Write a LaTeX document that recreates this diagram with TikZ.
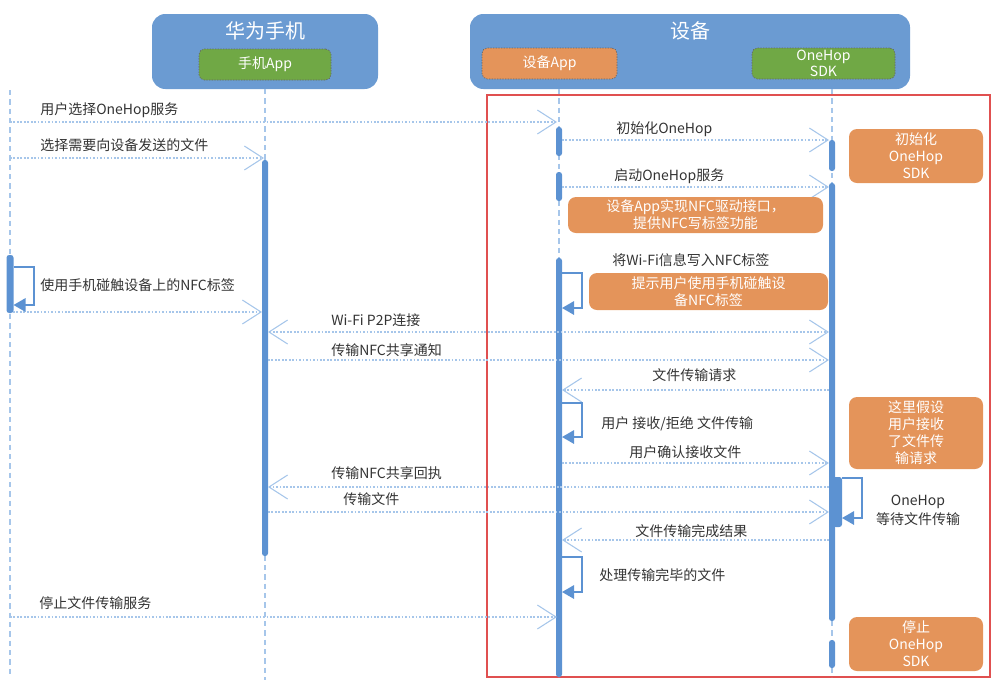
\documentclass[tikz,border=0pt]{standalone}
\usepackage{fontspec}
\setmainfont{Noto Sans CJK SC}
\usetikzlibrary{arrows.meta}
\definecolor{hdrblue}{HTML}{6B9BD2}
\definecolor{grn}{HTML}{70A845}
\definecolor{org}{HTML}{E4945A}
\definecolor{msgblue}{HTML}{A6C6EA}
\definecolor{barblue}{HTML}{5C92D2}
\definecolor{redf}{HTML}{E05050}
\definecolor{txt}{HTML}{333333}
\begin{document}
\begin{tikzpicture}[x=0.75pt,y=-0.75pt,
 >={Straight Barb[length=14pt,width=18pt,line width=0.8pt]},
 msg/.style={draw=msgblue,line width=1.1pt,dash pattern=on 1.3pt off 1.3pt},
 life/.style={draw=msgblue,line width=1.2pt,dash pattern=on 4pt off 3pt},
 barf/.style={fill=barblue,rounded corners=2pt},
 selfloop/.style={draw=barblue,line width=1.5pt,-{Triangle[length=9pt,width=10pt]}},
 lbl/.style={text=txt,font=\fontsize{10.5pt}{12pt}\selectfont,inner sep=0pt},
 note/.style={fill=org,rounded corners=6pt,text=white,align=center,font=\fontsize{10.5pt}{12.75pt}\selectfont,inner sep=0pt},
 hdr/.style={fill=hdrblue,rounded corners=10pt,inner sep=0pt},
 sub/.style={draw=black!60,dash pattern=on 1pt off 1pt,line width=0.5pt,rounded corners=4pt,text=white,align=center,font=\fontsize{10.5pt}{11.5pt}\selectfont,inner sep=0pt},
 ttl/.style={text=white,font=\fontsize{15pt}{16pt}\selectfont,inner sep=0pt}
]
\useasboundingbox (0,0) rectangle (1000,687);

% headers
\node[hdr,minimum width=169.5pt,minimum height=56.25pt] (phone) at (265,51.5) {};
\node[ttl] (phonettl) at (265,31) {华为手机};
\node[sub,fill=grn,minimum width=99pt,minimum height=23.25pt] (phoneapp) at (265,64.5) {手机App};
\node[hdr,minimum width=330pt,minimum height=56.25pt] (device) at (690,51.5) {};
\node[ttl] (devicettl) at (690,31) {设备};
\node[sub,fill=org,minimum width=101.25pt,minimum height=23.25pt] (devapp) at (549.5,63.5) {设备App};
\node[sub,fill=grn,minimum width=107.25pt,minimum height=23.25pt] (sdk) at (823.5,63.5) {OneHop\\SDK};

% red frame
\draw[redf,line width=1.2pt] (487,95) rectangle (990,677);

% lifelines
\coordinate (uTop) at (10,90);   \coordinate (uBot) at (10,677);
\coordinate (pTop) at (265,89);  \coordinate (pBot) at (265,680);
\coordinate (dTop) at (559,89);  \coordinate (dBot) at (559,677);
\coordinate (sTop) at (832,89);  \coordinate (sBot) at (832,677);
\draw[life] (uTop) -- (uBot);
\draw[life] (pTop) -- (pBot);
\draw[life] (dTop) -- (dBot);
\draw[life] (sTop) -- (sBot);

% activation bars
\fill[barf] (6.5,255) rectangle (13.5,313);
\fill[barf] (262,160) rectangle (268,556);
\fill[barf] (556,127) rectangle (562,156);
\fill[barf] (556,172) rectangle (562,201);
\fill[barf] (556,258) rectangle (562,677);
\fill[barf] (829,140) rectangle (835,171);
\fill[barf] (829,183) rectangle (835,621);
\fill[barf] (829,640) rectangle (835,668);
\fill[barf] (833,477) rectangle (842,527);

% messages
\coordinate (m1s) at (10,122);  \coordinate (m1e) at (557,122);
\draw[msg,->] (m1s) -- (m1e);
\node[lbl,anchor=west] (t1) at (40,110) {用户选择OneHop服务};
\coordinate (m2s) at (10,158);  \coordinate (m2e) at (264,158);
\draw[msg,->] (m2s) -- (m2e);
\node[lbl,anchor=west] (t2) at (40,145) {选择需要向设备发送的文件};
\coordinate (m3s) at (13,312);  \coordinate (m3e) at (262,312);
\draw[msg,->] (m3s) -- (m3e);
\coordinate (m4s) at (268,332); \coordinate (m4e) at (829,332);
\draw[msg,<->] (m4s) -- (m4e);
\node[lbl,anchor=west] (t4) at (331,320) {Wi-Fi P2P连接};
\coordinate (m5s) at (268,360); \coordinate (m5e) at (829,360);
\draw[msg,->] (m5s) -- (m5e);
\node[lbl,anchor=west] (t5) at (331,350) {传输NFC共享通知};
\coordinate (m6s) at (829,390); \coordinate (m6e) at (562,390);
\draw[msg,->] (m6s) -- (m6e);
\node[lbl,anchor=west] (t6) at (652,375) {文件传输请求};
\coordinate (m7s) at (562,140); \coordinate (m7e) at (829,140);
\draw[msg,->] (m7s) -- (m7e);
\node[lbl,anchor=west] (t7) at (616,129) {初始化OneHop};
\coordinate (m8s) at (562,187); \coordinate (m8e) at (829,187);
\draw[msg,->] (m8s) -- (m8e);
\node[lbl,anchor=west] (t8) at (614,176) {启动OneHop服务};
\coordinate (m9s) at (562,463); \coordinate (m9e) at (829,463);
\draw[msg,->] (m9s) -- (m9e);
\node[lbl,anchor=west] (t9) at (629,452) {用户确认接收文件};
\coordinate (m10s) at (829,487); \coordinate (m10e) at (268,487);
\draw[msg,->] (m10s) -- (m10e);
\node[lbl,anchor=west] (t10) at (331,473) {传输NFC共享回执};
\coordinate (m11s) at (268,512); \coordinate (m11e) at (829,512);
\draw[msg,->] (m11s) -- (m11e);
\node[lbl,anchor=west] (t11) at (343,499) {传输文件};
\coordinate (m12s) at (829,540); \coordinate (m12e) at (562,540);
\draw[msg,->] (m12s) -- (m12e);
\node[lbl,anchor=west] (t12) at (635,531) {文件传输完成结果};
\coordinate (m13s) at (10,617); \coordinate (m13e) at (557,617);
\draw[msg,->] (m13s) -- (m13e);
\node[lbl,anchor=west] (t13) at (39,603) {停止文件传输服务};

% self loops
\coordinate (l1a) at (13.5,267); \coordinate (l1b) at (13.5,305);
\draw[selfloop] (l1a) -- (34,267) -- (34,305) -- (l1b);
\node[lbl,anchor=west] (tl1) at (40,285) {使用手机碰触设备上的NFC标签};
\coordinate (l2a) at (562,273); \coordinate (l2b) at (562,308);
\draw[selfloop] (l2a) -- (582,273) -- (582,308) -- (l2b);
\node[lbl,anchor=west] (tl2) at (612,260) {将Wi-Fi信息写入NFC标签};
\coordinate (l3a) at (562,403); \coordinate (l3b) at (562,437);
\draw[selfloop] (l3a) -- (582,403) -- (582,437) -- (l3b);
\node[lbl,anchor=west] (tl3) at (601,424) {用户 接收/拒绝 文件传输};
\coordinate (l4a) at (562,557); \coordinate (l4b) at (562,592);
\draw[selfloop] (l4a) -- (582,557) -- (582,592) -- (l4b);
\node[lbl,anchor=west] (tl4) at (599,575) {处理传输完毕的文件};
\coordinate (l5a) at (842,478); \coordinate (l5b) at (842,518);
\draw[selfloop] (l5a) -- (862,478) -- (862,518) -- (l5b);
\node[lbl,align=center,font=\fontsize{10.5pt}{14pt}\selectfont] (tl5) at (918,510) {OneHop\\等待文件传输};

% notes
\node[note,minimum width=191.25pt,minimum height=27pt] (n1) at (695.5,215) {设备App实现NFC驱动接口，\\提供NFC写标签功能};
\node[note,minimum width=179.25pt,minimum height=27.75pt] (n2) at (708.5,291.5) {提示用户使用手机碰触设\\备NFC标签};
\node[note,minimum width=100.5pt,minimum height=40.5pt] (n3) at (916,156) {初始化\\OneHop\\SDK};
\node[note,minimum width=100.5pt,minimum height=54pt] (n4) at (916,433) {这里假设\\用户接收\\了文件传\\输请求};
\node[note,minimum width=100.5pt,minimum height=40.5pt] (n5) at (916,644) {停止\\OneHop\\SDK};
\end{tikzpicture}
\end{document}
